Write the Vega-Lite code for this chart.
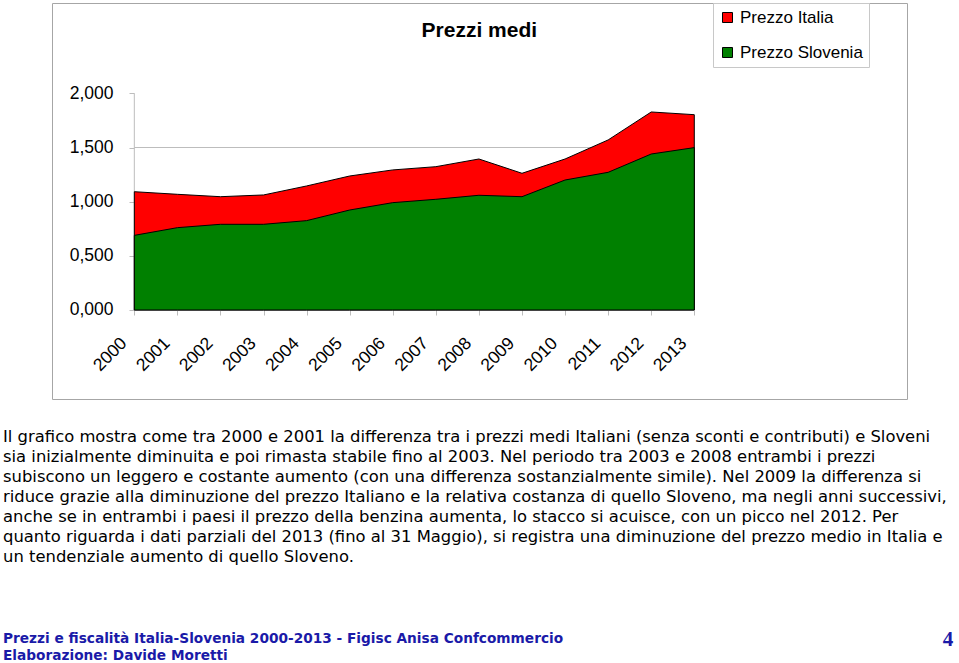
{
  "$schema": "https://vega.github.io/schema/vega-lite/v6.json",
  "autosize": {"type": "none"},
  "width": 855,
  "height": 396,
  "padding": {"left": 52, "top": 3, "right": 52, "bottom": 264},
  "background": "white",
  "config": {
    "locale": {"number": {"decimal": ",", "thousands": ".", "grouping": [3], "currency": ["€", ""]}},
    "view": {"stroke": "#a6a6a6", "strokeWidth": 1},
    "font": "Liberation Sans"
  },
  "data": {
    "values": [
      {"year": 2000, "italia": 1.092, "slovenia": 0.689},
      {"year": 2001, "italia": 1.068, "slovenia": 0.760},
      {"year": 2002, "italia": 1.046, "slovenia": 0.791},
      {"year": 2003, "italia": 1.062, "slovenia": 0.791},
      {"year": 2004, "italia": 1.145, "slovenia": 0.825},
      {"year": 2005, "italia": 1.237, "slovenia": 0.923},
      {"year": 2006, "italia": 1.293, "slovenia": 0.991},
      {"year": 2007, "italia": 1.323, "slovenia": 1.022},
      {"year": 2008, "italia": 1.394, "slovenia": 1.059},
      {"year": 2009, "italia": 1.262, "slovenia": 1.046},
      {"year": 2010, "italia": 1.394, "slovenia": 1.200},
      {"year": 2011, "italia": 1.570, "slovenia": 1.271},
      {"year": 2012, "italia": 1.828, "slovenia": 1.440},
      {"year": 2013, "italia": 1.803, "slovenia": 1.499}
    ]
  },
  "layer": [
    {
      "data": {"values": [{}]},
      "mark": {"type": "rule", "color": "#bdbdbd", "strokeWidth": 1},
      "encoding": {
        "y": {"datum": 1.5, "type": "quantitative"},
        "x": {"datum": 2000, "type": "quantitative"},
        "x2": {"datum": 2013}
      }
    },
    {
      "data": {"values": [{}]},
      "mark": {"type": "rule", "color": "#bdbdbd", "strokeWidth": 1},
      "encoding": {
        "x": {"datum": 2000, "type": "quantitative"},
        "y": {"datum": 0, "type": "quantitative"},
        "y2": {"datum": 2}
      }
    },
    {
      "mark": {"type": "area", "stroke": "black", "strokeWidth": 1, "opacity": 1},
      "encoding": {
        "x": {
          "field": "year",
          "type": "quantitative",
          "scale": {"domain": [1998.089, 2017.938], "nice": false, "zero": false},
          "axis": {
            "title": null,
            "values": [2000, 2001, 2002, 2003, 2004, 2005, 2006, 2007, 2008, 2009, 2010, 2011, 2012, 2013],
            "format": "d",
            "offset": -89,
            "domain": false,
            "grid": false,
            "ticks": true,
            "tickSize": 5,
            "tickColor": "#bdbdbd",
            "labelAngle": -45,
            "labelAlign": "right",
            "labelBaseline": "top",
            "labelOffset": -17,
            "labelPadding": 19,
            "labelFontSize": 17.5,
            "labelFont": "Liberation Sans",
            "labelColor": "black",
            "labelOverlap": false,
            "labelFlush": false
          }
        },
        "y": {
          "field": "italia",
          "type": "quantitative",
          "scale": {"domain": [-0.8216, 2.834], "nice": false, "zero": false},
          "axis": {
            "title": null,
            "values": [0, 0.5, 1, 1.5, 2],
            "format": ".3f",
            "offset": -82,
            "domain": false,
            "grid": false,
            "ticks": true,
            "tickSize": 5,
            "tickColor": "#bdbdbd",
            "labelPadding": 16,
            "labelFontSize": 17.5,
            "labelFont": "Liberation Sans",
            "labelColor": "black",
            "labelFlush": false,
            "labelOverlap": false
          }
        },
        "y2": {"datum": 0},
        "color": {
          "datum": "Prezzo Italia",
          "type": "nominal",
          "scale": {"domain": ["Prezzo Italia", "Prezzo Slovenia"], "range": ["#ff0000", "#008000"]},
          "legend": {
            "title": null,
            "orient": "none",
            "legendX": 661,
            "legendY": 0,
            "fillColor": "white",
            "strokeColor": "#c8c8c8",
            "padding": 6,
            "symbolType": "square",
            "symbolSize": 100,
            "symbolStrokeColor": "black",
            "symbolStrokeWidth": 1,
            "symbolOpacity": 1,
            "labelFont": "Liberation Sans",
            "labelFontSize": 17,
            "labelColor": "black",
            "labelOffset": 4,
            "rowPadding": 17
          }
        }
      }
    },
    {
      "mark": {"type": "area", "stroke": "black", "strokeWidth": 1, "opacity": 1},
      "encoding": {
        "x": {"field": "year", "type": "quantitative"},
        "y": {"field": "slovenia", "type": "quantitative"},
        "y2": {"datum": 0},
        "color": {"datum": "Prezzo Slovenia", "type": "nominal"}
      }
    },
    {
      "data": {"values": [{"label": "Prezzi medi"}]},
      "mark": {"type": "text", "font": "Liberation Sans", "fontSize": 21, "fontWeight": "bold", "align": "center", "baseline": "middle", "color": "black"},
      "encoding": {
        "x": {"datum": 2008.01, "type": "quantitative"},
        "y": {"datum": 2.575, "type": "quantitative"},
        "text": {"field": "label"}
      }
    },
    {
      "data": {"values": [{"label": [
        "Il grafico mostra come tra 2000 e 2001 la differenza tra i prezzi medi Italiani (senza sconti e contributi) e Sloveni",
        "sia inizialmente diminuita e poi rimasta stabile fino al 2003. Nel periodo tra 2003 e 2008 entrambi i prezzi",
        "subiscono un leggero e costante aumento (con una differenza sostanzialmente simile). Nel 2009 la differenza si",
        "riduce grazie alla diminuzione del prezzo Italiano e la relativa costanza di quello Sloveno, ma negli anni successivi,",
        "anche se in entrambi i paesi il prezzo della benzina aumenta, lo stacco si acuisce, con un picco nel 2012. Per",
        "quanto riguarda i dati parziali del 2013 (fino al 31 Maggio), si registra una diminuzione del prezzo medio in Italia e",
        "un tendenziale aumento di quello Sloveno."
      ]}]},
      "mark": {"type": "text", "font": "DejaVu Sans", "fontSize": 16.4, "align": "left", "baseline": "top", "lineHeight": 20, "color": "black"},
      "encoding": {
        "x": {"datum": 1996.952, "type": "quantitative"},
        "y": {"datum": -1.1, "type": "quantitative"},
        "text": {"field": "label"}
      }
    },
    {
      "data": {"values": [{"label": [
        "Prezzi e fiscalità Italia-Slovenia 2000-2013 - Figisc Anisa Confcommercio",
        "Elaborazione: Davide Moretti"
      ]}]},
      "mark": {"type": "text", "font": "DejaVu Sans", "fontSize": 13.7, "fontWeight": "bold", "align": "left", "baseline": "top", "lineHeight": 17, "color": "#1a1aa8"},
      "encoding": {
        "x": {"datum": 1996.952, "type": "quantitative"},
        "y": {"datum": -2.97, "type": "quantitative"},
        "text": {"field": "label"}
      }
    },
    {
      "data": {"values": [{"label": "4"}]},
      "mark": {"type": "text", "font": "Liberation Serif", "fontSize": 21, "fontWeight": "bold", "align": "center", "baseline": "middle", "color": "#1a1aa8"},
      "encoding": {
        "x": {"datum": 2018.89, "type": "quantitative"},
        "y": {"datum": -3.046, "type": "quantitative"},
        "text": {"field": "label"}
      }
    }
  ]
}
